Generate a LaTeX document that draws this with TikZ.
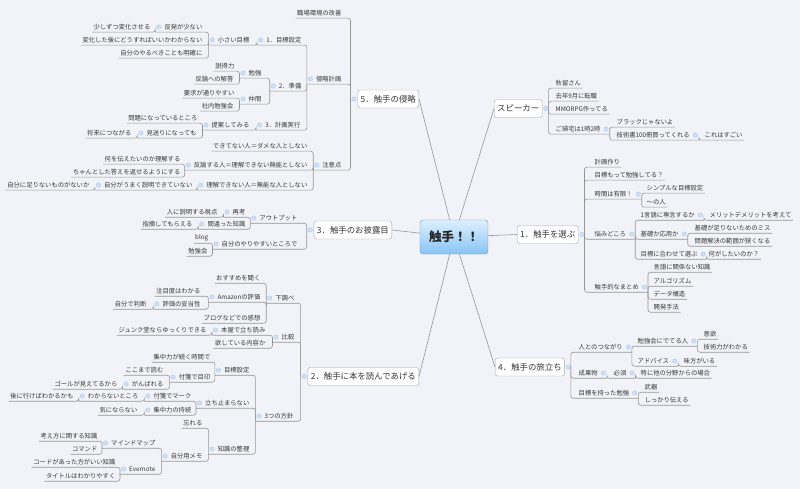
\documentclass[tikz,border=0pt]{standalone}
\usepackage{fontspec}
\setmainfont{Noto Sans CJK JP}
\usetikzlibrary{calc}
\definecolor{bggray}{RGB}{242,243,248}
\definecolor{txtgray}{RGB}{55,55,55}
\definecolor{linegray}{RGB}{150,150,150}
\definecolor{boxline}{RGB}{165,165,165}
\definecolor{dotblue}{RGB}{170,200,240}
\definecolor{hubtop}{RGB}{222,240,255}
\definecolor{hubbot}{RGB}{135,195,245}
\definecolor{hubline}{RGB}{110,150,195}
\tikzset{
  topic/.style  ={inner xsep=1.5pt, inner ysep=0pt, minimum height=10pt, text=txtgray,
                  font=\fontsize{6.3}{7}\selectfont},
  branch/.style ={rectangle, rounded corners=2.5pt, draw=boxline, fill=white, inner xsep=3pt,
                  minimum height=18pt, text=txtgray, font=\fontsize{8.4}{9}\selectfont},
  central/.style={rectangle, rounded corners=3pt, draw=hubline, top color=hubtop, bottom color=hubbot,
                  minimum width=68pt, minimum height=34pt, text=black!85,
                  font=\fontsize{12.5}{13}\selectfont\bfseries},
  conn/.style   ={draw=linegray, line width=0.6pt, rounded corners=2.5pt},
  spoke/.style  ={draw=linegray, line width=0.6pt},
  knob/.style   ={circle, fill=dotblue!55, draw=dotblue, line width=0.4pt, inner sep=0pt, minimum size=4.4pt},
}
% left / right topics: leaf or parent (parent gets a knob and a trunk point)
\newcommand{\lleaf}[4]{\node[topic,anchor=east] (#1) at (#2,#3) {#4};
  \coordinate (#1-j) at (#1.south west);}
\newcommand{\lpar}[4]{\node[topic,anchor=east] (#1) at (#2,#3) {#4};
  \coordinate (#1-j) at ($(#1.south west)+(-7.5,0)$);
  \node[knob] (#1-k) at ($(#1.west)+(-4,0)$) {};}
\newcommand{\rleaf}[4]{\node[topic,anchor=west] (#1) at (#2,#3) {#4};
  \coordinate (#1-j) at (#1.south east);}
\newcommand{\rpar}[4]{\node[topic,anchor=west] (#1) at (#2,#3) {#4};
  \coordinate (#1-j) at ($(#1.south east)+(7.5,0)$);
  \node[knob] (#1-k) at ($(#1.east)+(4,0)$) {};}

\begin{document}
\begin{tikzpicture}[x=1pt,y=-1pt]
\fill[bggray] (0,0) rectangle (800,489);

\node[central] (hub) at (454,237) {触手！！};

% main branches
\node[branch,anchor=east] (inv) at (419,99) {5．触手の侵略};
\node[branch,anchor=east] (show) at (392,230) {3．触手のお披露目};
\node[branch,anchor=east] (read) at (419,376.5) {2．触手に本を読んであげる};
\node[branch,anchor=west] (spk) at (494,108.5) {スピーカー};
\node[branch,anchor=west] (sel) at (517,234.5) {1．触手を選ぶ};
\node[branch,anchor=west] (trip) at (495,367) {4．触手の旅立ち};
\foreach \b in {inv,show,read} {
  \coordinate (\b-j) at ($(\b.west)+(-7,0)$);
  \node[knob] (\b-k) at ($(\b.west)+(-3.5,0)$) {};
  \draw[spoke] (\b.east) -- (hub);
}
\foreach \b in {spk,sel,trip} {
  \coordinate (\b-j) at ($(\b.east)+(6,0)$);
  \node[knob] (\b-k) at ($(\b.east)+(3.5,0)$) {};
  \draw[spoke] (\b.west) -- (hub);
}

% 5
\lleaf{iA}{343}{13}{職場環境の改善}
\lpar{iB}{343}{79}{侵略計画}
\lpar{iB1}{303}{40}{1．目標設定}
\lpar{iB1a}{251}{40}{小さい目標}
\lpar{iB1a1}{204}{27}{反発が少ない}
\lleaf{iB1a1x}{152}{27}{少しずつ変化させる}
\lleaf{iB1a2}{204}{40}{変化した後にどうすればいいかわからない}
\lleaf{iB1a3}{204}{53}{自分のやるべきことも明確に}
\lpar{iB2}{303}{86}{2．準備}
\lpar{iB2a}{263}{73}{勉強}
\lleaf{iB2a1}{236}{66}{説得力}
\lleaf{iB2a2}{235}{79}{反論への解答}
\lpar{iB2b}{263}{99}{仲間}
\lleaf{iB2b1}{236}{93}{要求が通りやすい}
\lleaf{iB2b2}{235}{106}{社内勉強会}
\lpar{iB3}{302}{125}{3．計画実行}
\lpar{iB3a}{251}{125}{提案してみる}
\lleaf{iB3a1}{199}{118}{問題になっているところ}
\lpar{iB3a2}{198}{133}{見送りになっても}
\lleaf{iB3a2x}{133}{133}{将来につながる}
\lpar{iC}{343}{165}{注意点}
\lleaf{iC1}{309}{146}{できてない人＝ダメな人としない}
\lpar{iC2}{309}{165}{反論する人＝理解できない無能としない}
\lleaf{iC2a}{182}{159}{何を伝えたいのか理解する}
\lleaf{iC2b}{182}{172}{ちゃんとした答えを返せるようにする}
\lpar{iC3}{309}{185}{理解できない人＝無能な人としない}
\lpar{iC3a}{194}{185}{自分がうまく説明できていない}
\lleaf{iC3ax}{91}{185}{自分に足りないものがないか}

% 3
\lpar{sA}{299}{218}{アウトプット}
\lpar{sA1}{247}{212}{再考}
\lleaf{sA1x}{219}{212}{人に説明する視点}
\lpar{sA2}{247}{224}{間違った知識}
\lleaf{sA2x}{194}{224}{指摘してもらえる}
\lpar{sB}{299}{244}{自分のやりやすいところで}
\lleaf{sB1}{210}{238}{blog}
\lleaf{sB2}{209}{251}{勉強会}

% 2
\lpar{rA}{296}{298}{下調べ}
\lleaf{rA1}{262}{278}{おすすめを聞く}
\lpar{rA2}{262}{297}{Amazonの評価}
\lleaf{rA2a}{202}{291}{注目度はわかる}
\lpar{rA2b}{202}{304}{評価の妥当性}
\lleaf{rA2bx}{148}{304}{自分で判断}
\lleaf{rA3}{262}{318}{ブログなどでの感想}
\lpar{rB}{296}{337}{比較}
\lpar{rB1}{267}{330}{本屋で立ち読み}
\lleaf{rB1x}{208}{330}{ジュンク堂ならゆっくりできる}
\lleaf{rB2}{267}{343}{欲している内容か}
\lpar{rC}{295}{416}{3つの方針}
\lpar{rC1}{251}{370}{目標設定}
\lleaf{rC1a}{212}{357}{集中力が続く時間で}
\lpar{rC1b}{212}{377}{付箋で目印}
\lleaf{rC1b1}{165}{370}{ここまで読む}
\lpar{rC1b2}{165}{384}{がんばれる}
\lleaf{rC1b2x}{119}{384}{ゴールが見えてるから}
\lpar{rC2}{251}{403}{立ち止まらない}
\lpar{rC2a}{193}{396}{付箋でマーク}
\lpar{rC2ax}{140}{396}{わからないところ}
\lleaf{rC2axx}{75}{396}{後に行けばわかるかも}
\lpar{rC2b}{193}{410}{集中力の持続}
\lleaf{rC2bx}{139}{410}{気にならない}
\lpar{rC3}{251}{449}{知識の整理}
\lleaf{rC3a}{204}{423}{忘れる}
\lpar{rC3b}{204}{456}{自分用メモ}
\lpar{rC3b1}{157}{443}{マインドマップ}
\lleaf{rC3b1a}{99}{436}{考え方に関する知識}
\lleaf{rC3b1b}{99}{449}{コマンド}
\lpar{rC3b2}{157}{469}{Evernote}
\lleaf{rC3b2a}{117}{462}{コードがあった方がいい知識}
\lleaf{rC3b2b}{117}{476}{タイトルはわかりやすく}

% speaker
\rleaf{kA}{554}{83}{秋留さん}
\rleaf{kB}{554}{96}{去年9月に転職}
\rleaf{kC}{554}{109}{MMORPG作ってる}
\rpar{kD}{554}{129}{ご帰宅は1時2時}
\rleaf{kD1}{615}{122}{ブラックじゃないよ}
\rpar{kD2}{615}{135}{技術書100冊買ってくれる}
\rleaf{kD2x}{703}{135}{これはすごい}

% 1
\rleaf{eA}{593}{162}{計画作り}
\rleaf{eB}{593}{175}{目標もって勉強してる？}
\rpar{eC}{593}{194}{時間は有限！}
\rleaf{eC1}{645}{188}{シンプルな目標設定}
\rleaf{eC2}{645}{202}{〜の人}
\rpar{eD}{593}{234}{悩みどころ}
\rpar{eD1}{639}{215}{1言語に専念するか}
\rleaf{eD1x}{708}{215}{メリットデメリットを考えて}
\rpar{eD2}{639}{234}{基礎か応用か}
\rleaf{eD2a}{693}{228}{基礎が足りないためのミス}
\rleaf{eD2b}{693}{241}{問題解決の範囲が狭くなる}
\rpar{eD3}{639}{254}{目標に合わせて選ぶ}
\rleaf{eD3x}{707}{254}{何がしたいのか？}
\rpar{eE}{593}{287}{触手的なまとめ}
\rleaf{eE1}{652}{267}{言語に関係ない知識}
\rleaf{eE2}{652}{281}{アルゴリズム}
\rleaf{eE3}{652}{294}{データ構造}
\rleaf{eE4}{652}{307}{開発手法}

% 4
\rpar{tA}{577}{347}{人とのつながり}
\rpar{tA1}{636}{341}{勉強会にでてる人}
\rleaf{tA1a}{702}{334}{意欲}
\rleaf{tA1b}{702}{347}{技術力がわかる}
\rpar{tA2}{636}{361}{アドバイス}
\rleaf{tA2x}{682}{361}{味方がいる}
\rpar{tB}{577}{373}{成果物}
\rpar{tB1}{612}{373}{必須}
\rleaf{tB1x}{639}{373}{特に他の分野からの場合}
\rpar{tC}{577}{393}{目標を持った勉強}
\rleaf{tC1}{643}{387}{武器}
\rleaf{tC2}{643}{400}{しっかり伝える}

% underlines to trunks
\foreach \c/\p in {iA/inv,iB/inv,iC/inv,iB1/iB,iB2/iB,iB3/iB,iB1a/iB1,iB1a1/iB1a,iB1a2/iB1a,
  iB1a3/iB1a,iB1a1x/iB1a1,iB2a/iB2,iB2b/iB2,iB2a1/iB2a,iB2a2/iB2a,iB2b1/iB2b,iB2b2/iB2b,
  iB3a/iB3,iB3a1/iB3a,iB3a2/iB3a,iB3a2x/iB3a2,iC1/iC,iC2/iC,iC3/iC,iC2a/iC2,iC2b/iC2,
  iC3a/iC3,iC3ax/iC3a}
  \draw[conn] (\c-j) -| (\p-j);
\foreach \c/\p in {sA/show,sB/show,sA1/sA,sA2/sA,sA1x/sA1,sA2x/sA2,sB1/sB,sB2/sB}
  \draw[conn] (\c-j) -| (\p-j);
\foreach \c/\p in {rA/read,rB/read,rC/read,rA1/rA,rA2/rA,rA3/rA,rA2a/rA2,rA2b/rA2,rA2bx/rA2b,
  rB1/rB,rB2/rB,rB1x/rB1,rC1/rC,rC2/rC,rC3/rC,rC1a/rC1,rC1b/rC1,rC1b1/rC1b,rC1b2/rC1b,
  rC1b2x/rC1b2,rC2a/rC2,rC2b/rC2,rC2ax/rC2a,rC2axx/rC2ax,rC2bx/rC2b,rC3a/rC3,rC3b/rC3,
  rC3b1/rC3b,rC3b2/rC3b,rC3b1a/rC3b1,rC3b1b/rC3b1,rC3b2a/rC3b2,rC3b2b/rC3b2}
  \draw[conn] (\c-j) -| (\p-j);
\foreach \c/\p in {kA/spk,kB/spk,kC/spk,kD/spk,kD1/kD,kD2/kD,kD2x/kD2,
  eA/sel,eB/sel,eC/sel,eD/sel,eE/sel,eC1/eC,eC2/eC,eD1/eD,eD2/eD,eD3/eD,eD1x/eD1,
  eD2a/eD2,eD2b/eD2,eD3x/eD3,eE1/eE,eE2/eE,eE3/eE,eE4/eE,
  tA/trip,tB/trip,tC/trip,tA1/tA,tA2/tA,tA1a/tA1,tA1b/tA1,tA2x/tA2,tB1/tB,tB1x/tB1,
  tC1/tC,tC2/tC}
  \draw[conn] (\c-j) -| (\p-j);
\end{tikzpicture}
\end{document}
